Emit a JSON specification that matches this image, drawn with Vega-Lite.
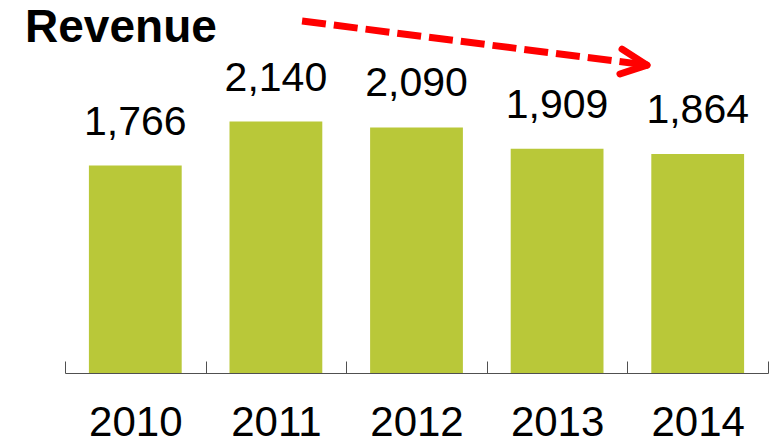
{
  "$schema": "https://vega.github.io/schema/vega-lite/v6.json",
  "autosize": {"type": "none"},
  "width": 703,
  "height": 373,
  "padding": {"left": 65, "top": 0, "right": 9, "bottom": 70},
  "background": "white",
  "config": {"view": {"stroke": null}, "font": "Liberation Sans"},
  "datasets": {
    "revenue": [
      {"year": "2010", "revenue": 1766},
      {"year": "2011", "revenue": 2140},
      {"year": "2012", "revenue": 2090},
      {"year": "2013", "revenue": 1909},
      {"year": "2014", "revenue": 1864}
    ],
    "arrow": [
      {"part": "shaft", "x": 1.686, "y": 2996, "x2": 4.139, "y2": 2621},
      {"part": "head-upper", "x": 3.962, "y": 2757, "x2": 4.139, "y2": 2621},
      {"part": "head-lower", "x": 3.947, "y": 2545, "x2": 4.139, "y2": 2621}
    ],
    "heading": [
      {"label": "Revenue", "x": -0.284, "y": 2817}
    ]
  },
  "layer": [
    {
      "data": {"name": "revenue"},
      "layer": [
        {
          "mark": {"type": "bar", "color": "#B9C839", "width": {"band": 0.66}},
          "encoding": {
            "x": {
              "field": "year",
              "type": "ordinal",
              "scale": {"paddingInner": 0, "paddingOuter": 0},
              "axis": {
                "title": null,
                "labelAngle": 0,
                "labelFontSize": 42,
                "labelFont": "Liberation Sans",
                "labelColor": "#000000",
                "labelBaseline": "alphabetic",
                "labelPadding": 74,
                "tickBand": "extent",
                "tickSize": -12,
                "tickColor": "#505050",
                "tickWidth": 1,
                "domainColor": "#505050",
                "domainWidth": 1
              }
            },
            "y": {
              "field": "revenue",
              "type": "quantitative",
              "scale": {"domain": [0, 3175], "nice": false, "zero": true},
              "axis": null
            }
          }
        },
        {
          "mark": {"type": "text", "baseline": "alphabetic", "dy": -31, "fontSize": 41, "font": "Liberation Sans", "color": "#000000"},
          "encoding": {
            "x": {"field": "year", "type": "ordinal"},
            "y": {"field": "revenue", "type": "quantitative"},
            "text": {"field": "revenue", "type": "quantitative", "format": ","}
          }
        }
      ]
    },
    {
      "data": {"name": "heading"},
      "mark": {"type": "text", "align": "left", "baseline": "alphabetic", "fontSize": 46, "fontWeight": "bold", "font": "Liberation Sans", "color": "#000000"},
      "encoding": {
        "x": {"field": "x", "type": "quantitative", "scale": {"domain": [0, 5], "nice": false, "zero": false}, "axis": null},
        "y": {"field": "y", "type": "quantitative"},
        "text": {"field": "label", "type": "nominal"}
      }
    },
    {
      "data": {"name": "arrow"},
      "transform": [{"filter": "datum.part == 'shaft'"}],
      "mark": {"type": "rule", "color": "#FF0000", "strokeWidth": 7, "strokeDash": [24, 8], "strokeCap": "butt"},
      "encoding": {
        "x": {"field": "x", "type": "quantitative", "scale": {"domain": [0, 5], "nice": false, "zero": false}, "axis": null},
        "x2": {"field": "x2"},
        "y": {"field": "y", "type": "quantitative"},
        "y2": {"field": "y2"}
      }
    },
    {
      "data": {"name": "arrow"},
      "transform": [{"filter": "datum.part != 'shaft'"}],
      "mark": {"type": "rule", "color": "#FF0000", "strokeWidth": 7, "strokeCap": "round"},
      "encoding": {
        "x": {"field": "x", "type": "quantitative", "scale": {"domain": [0, 5], "nice": false, "zero": false}, "axis": null},
        "x2": {"field": "x2"},
        "y": {"field": "y", "type": "quantitative"},
        "y2": {"field": "y2"}
      }
    }
  ],
  "resolve": {"scale": {"x": "independent"}}
}
